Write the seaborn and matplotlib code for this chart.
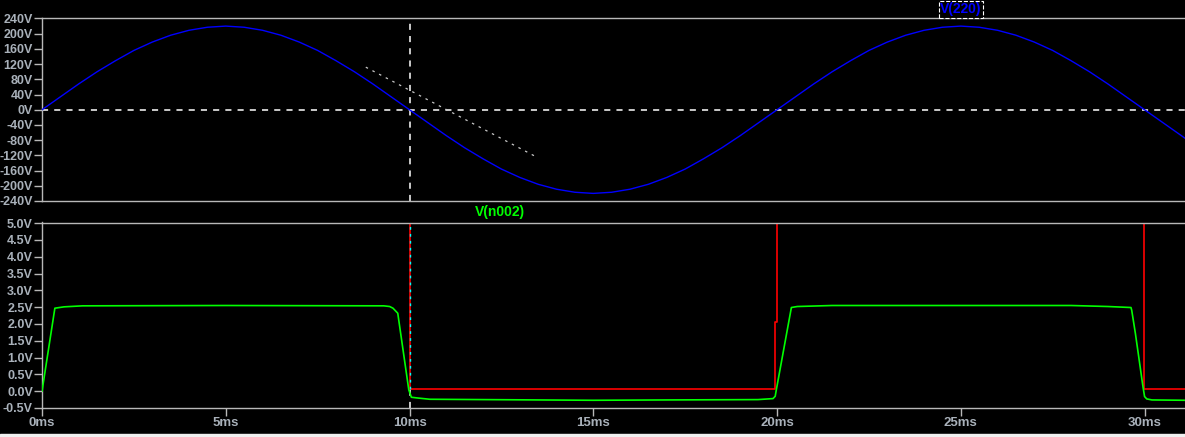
import pandas as pd
import matplotlib
matplotlib.use('Agg')
import matplotlib.pyplot as plt
import seaborn as sns
from matplotlib.patches import Rectangle

t_220 = [i * 0.5 for i in range(63)] + [31.1]
v_220 = [0, 34, 68, 100, 129, 156, 178, 196, 209, 217,
         220, 217, 209, 196, 178, 156, 129, 100, 68, 34,
         0, -34, -68, -100, -129, -156, -178, -196, -209, -217,
         -220, -217, -209, -196, -178, -156, -129, -100, -68, -34,
         0, 34, 68, 100, 129, 156, 178, 196, 209, 217,
         220, 217, 209, 196, 178, 156, 129, 100, 68, 34,
         0, -34, -68, -75]

# V(n002): green trace in the bottom pane
t_n002 = [0, 0.35, 0.6, 1.1, 5, 9.3, 9.46, 9.55, 9.68, 9.98, 10.05, 10.2,
          10.55, 12, 15, 17, 19.48, 19.89, 19.95, 19.98, 20.39, 20.55, 21.5,
          28, 29.0, 29.63, 29.65, 29.75, 29.84, 29.95, 30.0, 30.06, 30.2, 31.1]
v_n002 = [0.0, 2.47, 2.51, 2.54, 2.55, 2.54, 2.52, 2.47, 2.32, 0.04, -0.18, -0.20,
          -0.24, -0.25, -0.27, -0.26, -0.25, -0.22, -0.15, 0.04, 2.49, 2.52, 2.55,
          2.55, 2.52, 2.49, 2.41, 1.72, 1.03, 0.18, -0.16, -0.23, -0.26, -0.27]

# unlabelled red trace (switching node)
t_red = [0, 0, 10, 10, 19.95, 19.95, 20.0, 20.0, 29.98, 29.98, 31.1]
v_red = [2.5, 5.0, 5.0, 0.07, 0.07, 2.07, 2.07, 5.0, 5.0, 0.07, 0.07]

# slope cursor (dotted) in the top pane
t_slope = [8.81, 13.45]
v_slope = [112, -124]

top_ticks = list(range(-240, 241, 40))
bot_ticks = [-0.5, 0.0, 0.5, 1.0, 1.5, 2.0, 2.5, 3.0, 3.5, 4.0, 4.5, 5.0]
x_ticks = [0, 5, 10, 15, 20, 25, 30]

sns.set_style('dark', {'axes.facecolor': 'black', 'figure.facecolor': 'black'})
plt.rcParams['font.family'] = ['Liberation Sans', 'DejaVu Sans']

GRID = '#b8b8b8'
TXT = '#a9b1ba'
W, H = 1185, 437

fig = plt.figure(figsize=(W / 100, H / 100), dpi=100)
ax1 = fig.add_axes([42 / W, 1 - 201 / H, 1 - 42 / W, (201 - 18.5) / H])
ax2 = fig.add_axes([42 / W, 1 - 408 / H, 1 - 42 / W, (408 - 222.5) / H])

df_220 = pd.DataFrame({'t': t_220, 'v': v_220})
df_n002 = pd.DataFrame({'t': t_n002, 'v': v_n002})
df_red = pd.DataFrame({'t': t_red, 'v': v_red})
df_slope = pd.DataFrame({'t': t_slope, 'v': v_slope})

# top pane
ax1.axhline(0, color='white', lw=1.1, ls=(0, (4, 4)), zorder=1)
ax1.axvline(10, color='white', lw=1.1, ls=(0, (4, 4)), zorder=1)
sns.lineplot(data=df_slope, x='t', y='v', ax=ax1, color='#c8c8c8', lw=0.9,
             ls=(0, (2, 4)), estimator=None, sort=False)
sns.lineplot(data=df_220, x='t', y='v', ax=ax1, color='#0000ff', lw=1.0,
             estimator=None, sort=False, zorder=3)
ax1.set_ylim(-240, 240)
ax1.set_yticks(top_ticks)
ax1.set_yticklabels([f'{v}V' for v in top_ticks])
ax1.set_xticks([])

# bottom pane
ax2.plot([10, 10], [-0.5, 0.07], color='white', lw=1.1, ls=(0, (4, 4)), zorder=1)
sns.lineplot(data=df_red, x='t', y='v', ax=ax2, color='#ff0000', lw=1.2,
             estimator=None, sort=False, zorder=2)
ax2.plot([10, 10], [0.07, 5.0], color='#00ffff', lw=1.0, ls=(0, (2, 3)), zorder=2.5)
sns.lineplot(data=df_n002, x='t', y='v', ax=ax2, color='#00ff00', lw=1.2,
             estimator=None, sort=False, zorder=3)
ax2.set_ylim(-0.5, 5.02)
ax2.set_yticks(bot_ticks)
ax2.set_yticklabels([f'{v:.1f}V' for v in bot_ticks])
ax2.set_xticks(x_ticks)
ax2.set_xticklabels([f'{v}ms' for v in x_ticks])

for ax in (ax1, ax2):
    ax.set_facecolor('black')
    ax.set_xlim(0, 31.1)
    ax.set_xlabel('')
    ax.set_ylabel('')
    ax.grid(False)
    for side in ('left', 'top', 'bottom'):
        ax.spines[side].set_visible(True)
        ax.spines[side].set_color(GRID)
        ax.spines[side].set_linewidth(1.0)
    ax.spines['right'].set_visible(False)
    ax.tick_params(axis='both', colors=GRID, labelcolor=TXT, length=5.5, width=1,
                   direction='out', pad=1, labelsize=9, left=True, bottom=True)
    for lab in ax.get_yticklabels() + ax.get_xticklabels():
        lab.set_fontweight('bold')
ax1.tick_params(axis='x', length=0)
ax2.tick_params(axis='x', labelsize=9.5)

# trace labels
fig.text(961 / W, 1 - 9.5 / H, 'V(220)', color='#0000ff', fontsize=10,
         fontweight='bold', ha='center', va='center',
         bbox=dict(boxstyle='square,pad=0.12', fc='black', ec='white', ls='--', lw=0.8))
fig.text(500 / W, 1 - 212 / H, 'V(n002)', color='#00ff00', fontsize=10,
         fontweight='bold', ha='center', va='center')

# light window edge at the very bottom
fig.patches.append(Rectangle((0, 0), 1, 3 / H, transform=fig.transFigure,
                             color='#f0f0f0', zorder=0))

fig.savefig('out.png', dpi=100, facecolor='black')
